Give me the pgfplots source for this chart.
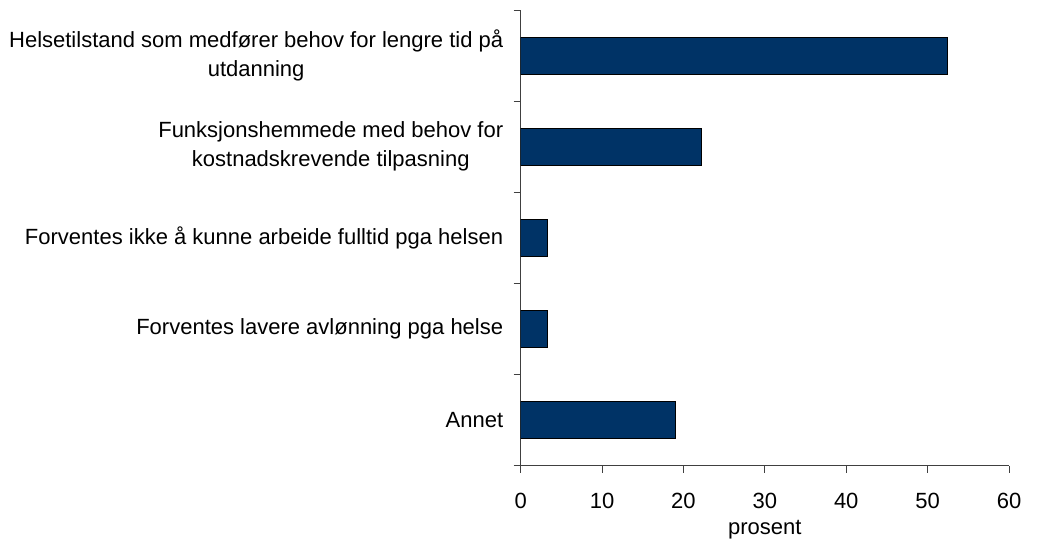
\documentclass[border=0pt]{standalone}
\usepackage{fontspec}
\setmainfont{Liberation Sans}
\usepackage{pgfplots}
\pgfplotsset{compat=1.18}
\definecolor{barblue}{HTML}{003366}
\begin{document}
\fontsize{22bp}{29bp}\selectfont
\begin{tikzpicture}[x=1bp,y=1bp]
\useasboundingbox (0,0) rectangle (1042,540);
\begin{axis}[
  at={(520.7bp,74.3bp)}, anchor=south west,
  scale only axis, width=488.3bp, height=455.7bp,
  xmin=0, xmax=60, ymin=-0.5, ymax=4.5,
  axis x line=bottom, axis y line=left,
  axis line style={black!75, line width=0.8pt, -},
  tick style={black!75, line width=0.8pt},
  tick align=outside,
  major tick length=7bp,
  xtick={0,10,...,60},
  ytick={-0.5,0.5,...,4.5},
  yticklabels={},
  extra y ticks={0,...,4},
  extra y tick labels={Annet, Forventes lavere avlønning pga helse,
    Forventes ikke å kunne arbeide fulltid pga helsen,
    {Funksjonshemmede med behov for\\kostnadskrevende tilpasning},
    {Helsetilstand som medfører behov for lengre tid på\\utdanning}},
  extra y tick style={tick style={draw=none}},
  yticklabel style={align=center, font=\fontsize{22bp}{29bp}\selectfont, xshift=-3bp},
  xticklabel style={font=\fontsize{22bp}{26bp}\selectfont, yshift=-13bp},
  xlabel={prosent},
  xlabel style={font=\fontsize{22bp}{26bp}\selectfont, yshift=3bp},
  /pgf/number format/assume math mode=true,
]
\addplot[xbar, bar width=37bp, fill=barblue, draw=black, line width=0.8pt]
  coordinates {(19.0,0) (3.3,1) (3.3,2) (22.2,3) (52.4,4)};
\end{axis}
\end{tikzpicture}
\end{document}
